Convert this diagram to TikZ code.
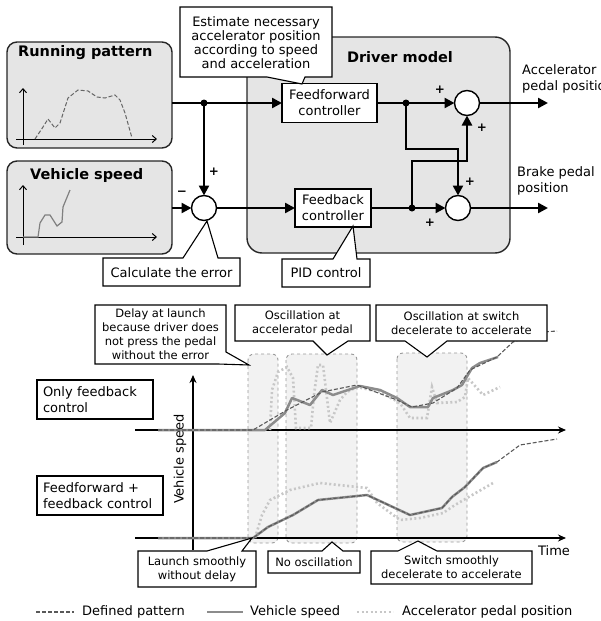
\documentclass[tikz,border=0pt]{standalone}
\usepackage{fontspec}
\setmainfont{DejaVu Sans}
\usetikzlibrary{arrows.meta}

\begin{document}
\begin{tikzpicture}[x=1pt,y=-1pt,
    font=\fontsize{13}{16}\selectfont,
    panel/.style={draw=black!85,line width=1.4pt,fill=black!10,rounded corners=10pt,inner sep=0pt,outer sep=0pt},
    ctrl/.style={draw,line width=1.2pt,fill=white,align=center,inner sep=0pt,outer sep=0pt},
    sumnode/.style={draw,line width=1.4pt,fill=white,circle,minimum size=25pt,inner sep=0pt,outer sep=0pt},
    sig/.style={line width=2.4pt,-{Triangle[length=10pt,width=10pt]}},
    note/.style={draw,line width=1.1pt,fill=white,line join=miter},
    notetext/.style={align=center,inner sep=0pt,font=\fontsize{13}{14}\selectfont},
    graphtext/.style={align=center,inner sep=0pt,font=\fontsize{11.5}{14}\selectfont},
    paneltitle/.style={font=\fontsize{14.5}{16}\selectfont\bfseries,anchor=west,inner sep=0pt},
    plussign/.style={font=\fontsize{12}{14}\selectfont\bfseries,inner sep=0pt},
    miniaxis/.style={line width=1pt,-{Straight Barb[length=4pt,width=7pt]}},
    region/.style={draw=black!40,dashed,fill=black!5,rounded corners=6pt,line width=0.9pt},
    gaxis/.style={line width=1.6pt,-{Stealth[length=8pt,width=7pt]}},
    defined/.style={draw=black!65,line width=1.1pt,dash pattern=on 4pt off 2pt},
    speed/.style={draw=black!45,line width=2.5pt,line join=round},
    pedal/.style={draw=black!22,line width=2.6pt,dash pattern=on 2pt off 2.5pt},
    lbox/.style={draw,line width=2pt,align=left,inner sep=6pt,outer sep=0pt,minimum height=39pt,font=\fontsize{13}{16}\selectfont}]

    \useasboundingbox (0,0) rectangle (600,621);

    % driver model block
    \node[panel, minimum width=263pt, minimum height=216pt, rounded corners=15pt] (drv) at (378.5,145) {};
    \node[paneltitle, anchor=center] (drvtitle) at (400,57) {Driver model};

    % the two input panels
    \node[panel, minimum width=165pt, minimum height=106pt] (runpat) at (89.5,95) {};
    \node[paneltitle] (runtitle) at (18,53) {Running pattern};
    \node[panel, minimum width=165pt, minimum height=93pt] (vspd) at (89.5,207.5) {};
    \node[paneltitle] (spdtitle) at (30,175) {Vehicle speed};

    % small plots inside the panels
    \draw[miniaxis] (16,139) -- (157,139);
    \draw[miniaxis] (23,145) -- (23,88);
    \draw[black!60,line width=1pt,dash pattern=on 4pt off 2pt] (35,139) -- (43,127) -- (48,119) -- (55,128) -- (60,123) -- (68,98) -- (78,90) -- (88,91) -- (97,97) -- (105,98) -- (115,95) -- (120,100) -- (125,113) -- (132,138);
    \draw[miniaxis] (16,237) -- (157,237);
    \draw[miniaxis] (23,245) -- (23,185);
    \draw[black!50,line width=1.2pt] (23,237) -- (38,237) -- (40,223) -- (45,215) -- (50,215) -- (57,226) -- (62,222) -- (63,207) -- (70,190);

    % controllers and summing points
    \node[ctrl, minimum width=95pt, minimum height=39pt] (ff) at (329.5,103) {Feedforward\\controller};
    \node[ctrl, minimum width=76pt, minimum height=38pt] (fb) at (333,208) {Feedback\\controller};
    \node[sumnode] (err) at (204,208) {};
    \node[sumnode] (sa) at (467,103) {};
    \node[sumnode] (sb) at (458,208) {};

    \coordinate (j1) at (204,103);
    \coordinate (j2) at (406,103);
    \coordinate (j3) at (412,208);
    \coordinate (k1) at (458,149);
    \coordinate (k2) at (467,161);
    \coordinate (outa) at (548,103);
    \coordinate (outb) at (548,208);

    % signal lines
    \draw[sig] (runpat.east |- ff.west) -- (ff.west);
    \draw[sig] (j1) -- (err.north);
    \draw[sig] (vspd.east |- err.west) -- (err.west);
    \draw[sig] (err.east) -- (fb.west);
    \draw[sig] (ff.east) -- (sa.west);
    \draw[sig] (fb.east) -- (sb.west);
    \draw[sig] (sa.east) -- (outa);
    \draw[sig] (sb.east) -- (outb);
    \draw[sig] (j2) |- (k1) -- (sb.north);
    \draw[sig] (j3) |- (k2) -- (sa.south);
    \foreach \j in {j1,j2,j3}
        \fill (\j) circle (3.5);

    % signs at the summing points
    \node[plussign] at (214,172) {+};
    \node[plussign] at (182,193) {−};
    \node[plussign] at (440,90) {+};
    \node[plussign] at (482,128) {+};
    \node[plussign] at (470,182) {+};
    \node[plussign] at (430,223) {+};

    % outputs
    \node[anchor=west,align=left,inner sep=0pt] (acclabel) at (522,79) {Accelerator\\pedal position};
    \node[anchor=west,align=left,inner sep=0pt] (brklabel) at (517,181) {Brake pedal\\position};

    % callouts of the block diagram
    \draw[note] (180,7) -- (332,7) -- (332,77) -- (305,77) -- (302,84) -- (267,77) -- (180,77) -- cycle;
    \node[notetext] (estim) at (256,43) {Estimate necessary\\accelerator position\\according to speed\\and acceleration};
    \draw[note] (103,258) -- (183,258) -- (207,221) -- (218,258) -- (240,258) -- (240,286) -- (103,286) -- cycle;
    \node[notetext] (calc) at (171.5,273) {Calculate the error};
    \draw[note] (282,259) -- (333,259) -- (353,226) -- (357,259) -- (370,259) -- (370,287) -- (282,287) -- cycle;
    \node[notetext] (pid) at (326,273) {PID control};

    % time plots: highlighted intervals
    \draw[region] (248,354) rectangle (278,543);
    \draw[region] (286,354) rectangle (357,543);
    \draw[region] (397,353) rectangle (467,542);

    % axes
    \draw[gaxis] (193,550) -- (193,375);
    \draw[gaxis] (135,430) -- (566,430);
    \draw[gaxis] (135,538) -- (566,538);
    \node[rotate=90] (ylabel) at (180,459) {Vehicle speed};
    \node (xlabel) at (554,551) {Time};

    % only feedback
    \draw[pedal] (270,430) -- (272,390) -- (278,372) -- (287,367) -- (293,378) -- (296,428) -- (311,428) -- (314,395) -- (318,365) -- (323,365) -- (330,423) -- (340,400) -- (347,392) -- (357,387) -- (380,392) -- (400,403) -- (410,418) -- (427,418) -- (432,387) -- (437,403) -- (457,402) -- (465,397) -- (468,378) -- (483,395) -- (500,387);
    \draw[speed] (158,430) -- (265,430) -- (285,413) -- (292,398) -- (310,405) -- (322,390) -- (333,395) -- (360,386) -- (380,390) -- (397,398) -- (410,407) -- (428,407) -- (433,398) -- (453,390) -- (462,385) -- (472,368) -- (480,363) -- (498,357);
    \draw[defined] (158,430) -- (253,430) -- (287,410) -- (322,392) -- (357,385) -- (397,400) -- (412,407) -- (433,403) -- (457,388) -- (470,370) -- (497,357) -- (513,342) -- (543,332) -- (557,331);

    % feedforward + feedback
    \draw[pedal] (255,538) -- (262,515) -- (270,500) -- (290,490) -- (320,483) -- (367,488) -- (377,503) -- (400,520) -- (420,518) -- (443,513) -- (455,505) -- (467,498) -- (493,483);
    \draw[speed] (158,538) -- (253,538) -- (268,527) -- (293,515) -- (318,500) -- (367,495) -- (410,515) -- (442,508) -- (452,497) -- (465,487) -- (483,468) -- (497,462);
    \draw[defined] (158,538) -- (253,538) -- (268,527) -- (293,515) -- (318,500) -- (367,495) -- (410,515) -- (442,508) -- (452,497) -- (465,487) -- (483,468) -- (497,462) -- (520,445) -- (557,439);

    % labels of the two cases
    \node[lbox, minimum width=116pt, text width=104pt] (onlyfb) at (95,399.5) {Only feedback\\control};
    \node[lbox, minimum width=126pt, text width=114pt] (fffb) at (100,495.5) {Feedforward +\\feedback control};

    % callouts of the time plots
    \draw[note] (95,305) -- (226,305) -- (226,352) -- (249,365) -- (218,364) -- (95,364) -- cycle;
    \node[graphtext] (delay) at (160.5,334.5) {Delay at launch\\because driver does\\not press the pedal\\without the error};
    \draw[note] (235,305) -- (370,305) -- (370,341) -- (348,341) -- (327,355) -- (313,341) -- (235,341) -- cycle;
    \node[graphtext] (osca) at (302.5,323) {Oscillation at\\accelerator pedal};
    \draw[note] (376,305) -- (547,305) -- (547,341) -- (447,341) -- (427,357) -- (405,341) -- (376,341) -- cycle;
    \node[graphtext] (oscb) at (461.5,323) {Oscillation at switch\\decelerate to accelerate};
    \draw[note] (138,551) -- (207,551) -- (252,538) -- (242,551) -- (256,551) -- (256,587) -- (138,587) -- cycle;
    \node[graphtext] (launch) at (197,569) {Launch smoothly\\without delay};
    \draw[note] (268,551) -- (322,551) -- (332,542) -- (343,551) -- (360,551) -- (360,573) -- (268,573) -- cycle;
    \node[graphtext] (noosc) at (314,562) {No oscillation};
    \draw[note] (371,551) -- (398,551) -- (418,541) -- (437,551) -- (532,551) -- (532,584) -- (371,584) -- cycle;
    \node[graphtext] (switch) at (451.5,567.5) {Switch smoothly\\decelerate to accelerate};

    % legend
    \draw[defined] (36,612) -- (74,612);
    \node[anchor=west,inner sep=0pt] (legdef) at (82,612) {Defined pattern};
    \draw[speed] (207,612) -- (243,612);
    \node[anchor=west,inner sep=0pt] (legspd) at (250,612) {Vehicle speed};
    \draw[pedal] (357,612) -- (393,612);
    \node[anchor=west,inner sep=0pt] (legped) at (402,612) {Accelerator pedal position};

\end{tikzpicture}
\end{document}
